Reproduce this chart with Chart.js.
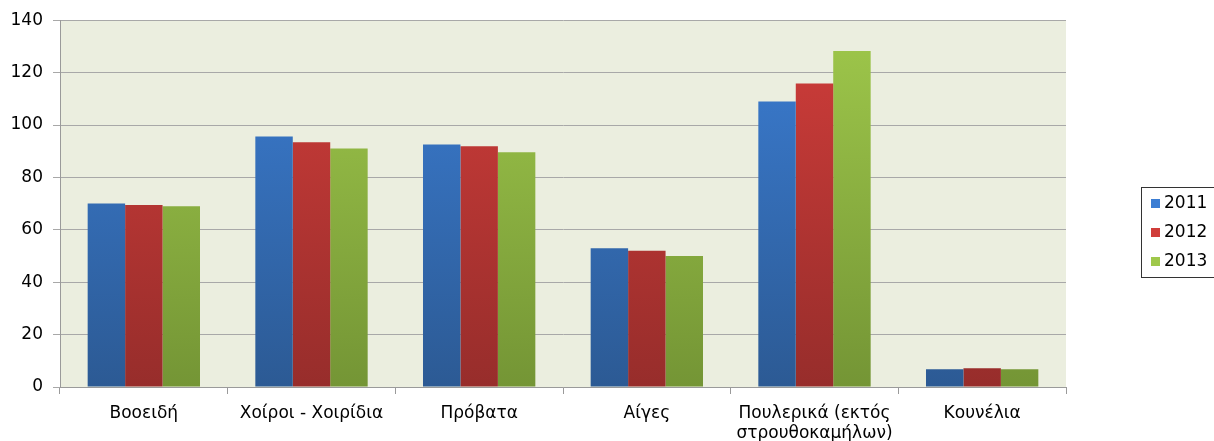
<!DOCTYPE html>
<html>
<head>
<meta charset="utf-8">
<script src="https://cdn.jsdelivr.net/npm/chart.js@4"></script>
<style>
  body { margin: 0; background: #fff; }
  #wrap { width: 1214px; height: 441px; position: relative; }
</style>
</head>
<body>
<div id="wrap"><canvas id="barChart"></canvas></div>
<script>
const categories = ["Βοοειδή", "Χοίροι - Χοιρίδια", "Πρόβατα", "Αίγες", ["Πουλερικά (εκτός", "στρουθοκαμήλων)"], "Κουνέλια"];
const years = ["2011", "2012", "2013"];
const values2011 = [70, 95.6, 92.6, 53, 109, 6.8];
const values2012 = [69.5, 93.4, 91.9, 52, 115.8, 7.2];
const values2013 = [69, 91, 89.6, 50, 128.2, 6.8];
const yTicks = [0, 20, 40, 60, 80, 100, 120, 140];

// top / bottom colours of each bar gradient
const shades = [
    ['#3b7dd3', '#2c5a94'],
    ['#d03d3a', '#972d2b'],
    ['#9fc84b', '#749535']
];

function gradient(i) {
    return function(ctx) {
        let area = ctx.chart.chartArea;
        if (!area) return shades[i][0];
        let g = ctx.chart.ctx.createLinearGradient(0, area.top, 0, area.bottom);
        g.addColorStop(0, shades[i][0]);
        g.addColorStop(1, shades[i][1]);
        return g;
    };
}

const plotBg = {
    id: 'plotBg',
    beforeDraw(chart) {
        let a = chart.chartArea, c = chart.ctx;
        c.save();
        c.fillStyle = '#ebeedf';
        c.fillRect(a.left, a.top, a.right - a.left, a.bottom - a.top);
        c.restore();
    }
};

const boxLegend = {
    id: 'boxLegend',
    afterDraw(chart) {
        let c = chart.ctx;
        c.save();
        c.strokeStyle = '#333';
        c.lineWidth = 1;
        c.strokeRect(1141.5, 187.5, 80, 90);
        c.font = '17px "DejaVu Sans"';
        c.textBaseline = 'middle';
        chart.data.datasets.forEach(function(ds, i) {
            let y = 203 + i * 29;
            c.fillStyle = shades[i][0];
            c.fillRect(1151, y - 4, 9, 9);
            c.fillStyle = '#000';
            c.fillText(ds.label, 1164, y + 1);
        });
        c.restore();
    }
};

let element = document.getElementById("barChart");

const myChart = new Chart(element, {
    type: 'bar',
    data: {
        labels: categories,
        datasets: [
            { label: years[0], data: values2011, backgroundColor: gradient(0) },
            { label: years[1], data: values2012, backgroundColor: gradient(1) },
            { label: years[2], data: values2013, backgroundColor: gradient(2) }
        ]
    },
    plugins: [plotBg, boxLegend],
    options: {
        responsive: true,
        maintainAspectRatio: false,
        animation: false,
        categoryPercentage: 0.67,
        barPercentage: 1,
        layout: { padding: { left: 0, top: 18, right: 148, bottom: 0 } },
        plugins: {
            legend: { display: false },
            tooltip: { enabled: false }
        },
        scales: {
            x: {
                offset: true,
                grid: {
                    offset: true,
                    drawOnChartArea: false,
                    color: '#9a9a9a',
                    tickLength: 7
                },
                border: { color: '#9a9a9a' },
                ticks: {
                    color: '#000',
                    font: { family: 'DejaVu Sans', size: 17, lineHeight: 1.15 },
                    padding: 10,
                    maxRotation: 0
                },
                afterFit(scale) { scale.height = 54; }
            },
            y: {
                min: 0,
                max: 140,
                afterBuildTicks(scale) { scale.ticks = yTicks.map(v => ({ value: v })); },
                grid: { color: '#a8a8a8', tickLength: 7 },
                border: { color: '#9a9a9a' },
                ticks: {
                    color: '#000',
                    font: { family: 'DejaVu Sans', size: 17 },
                    padding: 10
                },
                afterFit(scale) { scale.width = 60; }
            }
        }
    }
});
</script>
</body>
</html>
